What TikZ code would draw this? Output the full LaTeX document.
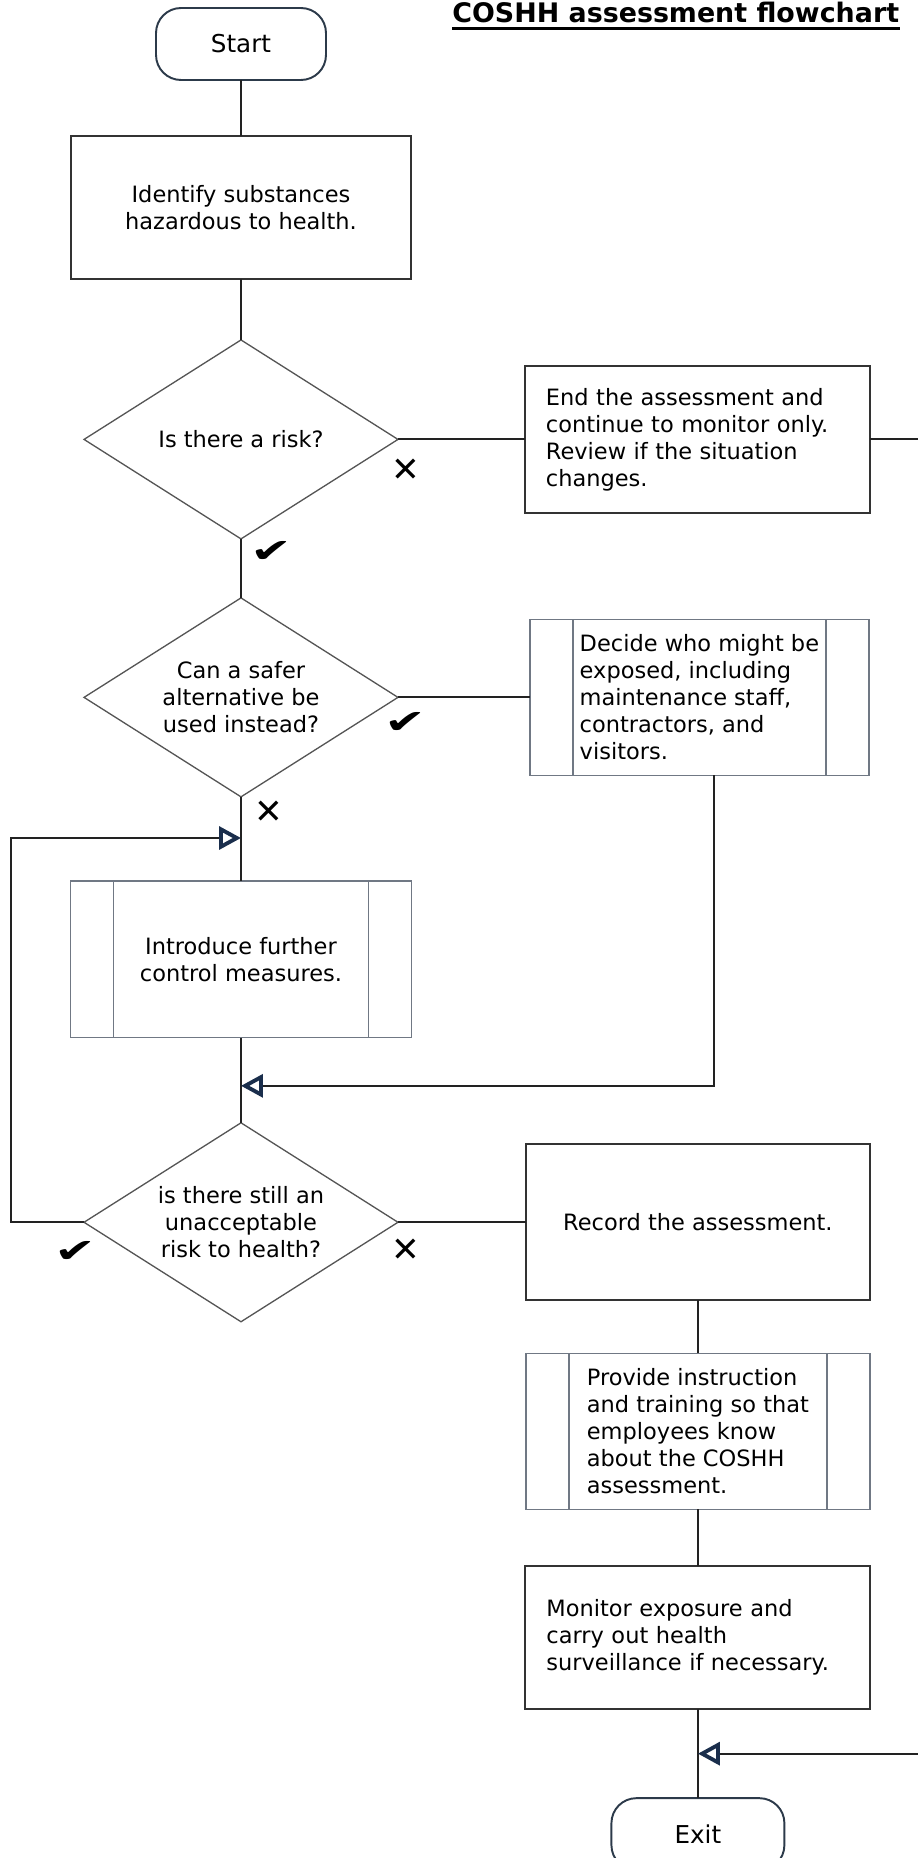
\documentclass[tikz,border=0pt]{standalone}
\usepackage{fontspec}
\setmainfont{DejaVu Sans}
\usepackage{graphicx}
\usetikzlibrary{shapes.geometric, arrows.meta, positioning, calc}
\definecolor{linegray}{RGB}{34,34,34}
\definecolor{boxgray}{RGB}{51,51,51}
\definecolor{diamgray}{RGB}{85,85,85}
\definecolor{procgray}{RGB}{112,120,132}
\definecolor{termslate}{RGB}{44,58,74}
\definecolor{tipnavy}{RGB}{26,46,76}
\tikzset{
  basebox/.style={rectangle,outer sep=0pt,align=center,font=\fontsize{12.8}{15.4}\selectfont},
  termnode/.style={basebox,rounded corners=0.5cm,draw=termslate,line width=1.1pt,minimum width=3.4cm,minimum height=1.44cm,font=\fontsize{14}{16}\selectfont},
  stepnode/.style={basebox,draw=boxgray,line width=1.1pt,minimum width=6.8cm},
  leftnode/.style={stepnode,align=left,text width=6.06cm,inner xsep=0.42cm},
  procnode/.style={basebox,align=left,draw=procgray,line width=0.75pt,minimum width=6.86cm,minimum height=3.12cm,
    path picture={\draw[procgray,line width=0.75pt]
      ([xshift=0.86cm]path picture bounding box.north west) -- ([xshift=0.86cm]path picture bounding box.south west)
      ([xshift=-0.86cm]path picture bounding box.north east) -- ([xshift=-0.86cm]path picture bounding box.south east);}},
  decnode/.style={diamond,draw=diamgray,line width=0.75pt,aspect=1.57,inner sep=1pt,outer sep=0pt,align=center,
    font=\fontsize{12.8}{15.4}\selectfont,minimum width=6.28cm,minimum height=3.98cm},
  nomark/.style={inner sep=0pt,font=\fontsize{19.5}{20}\selectfont},
  yesmark/.style={inner sep=0pt,font=\fontsize{19}{20}\selectfont},
  conn/.style={draw=linegray,line width=1.1pt},
  openarr/.style={conn,-{Triangle[open,length=12.5pt,width=13pt,line width=2.2pt,color=tipnavy]}}
}

\begin{document}
\begin{tikzpicture}[x=0.02cm,y=-0.02cm]
  \useasboundingbox (0,0) rectangle (917,1858);

  % left column
  \node[termnode] (start) at (241,44) {Start};
  \node[stepnode,minimum height=2.86cm,below=1.12cm of start] (ident) {Identify substances\\hazardous to health.};
  \node[decnode,below=1.22cm of ident] (risk) {Is there a risk?};
  \node[decnode,below=1.18cm of risk] (safer) {Can a safer\\alternative be\\used instead?};
  \node[procnode,align=center,minimum width=6.82cm,minimum height=3.14cm,below=1.68cm of safer] (intro) {Introduce further\\control measures.};
  \node[decnode,below=1.7cm of intro] (still) {is there still an\\unacceptable\\risk to health?};

  % right column
  \node[leftnode,minimum height=2.94cm,right=2.54cm of risk] (endbox) {End the assessment and\\continue to monitor only.\\Review if the situation\\changes.};
  \node[procnode,minimum width=6.78cm,right=2.64cm of safer] (decide) {Decide who might be\\exposed, including\\maintenance staff,\\contractors, and\\visitors.};
  \node[stepnode,minimum width=6.88cm,minimum height=3.12cm,right=2.56cm of still] (record) {Record the assessment.};
  \node[procnode,minimum width=6.88cm,below=1.06cm of record] (provide) {Provide instruction\\and training so that\\employees know\\about the COSHH\\assessment.};
  \node[leftnode,minimum height=2.86cm,below=1.14cm of provide] (monitor) {Monitor exposure and\\carry out health\\surveillance if necessary.};
  \node[termnode,minimum width=3.46cm,below=1.78cm of monitor] (exit) {Exit};

  \node[anchor=base west,inner sep=0pt,font=\fontsize{15.3}{18}\selectfont\bfseries] (title) at (452,23) {COSHH assessment flowchart};
  \draw[line width=1.5pt] ([yshift=-3pt]title.base west) -- ([yshift=-3pt]title.base east);

  % join points
  \coordinate (loopin) at ($(safer.south)!0.49!(intro.north)$);
  \coordinate (merge) at ($(intro.south)!0.565!(still.north)$);
  \coordinate (exitin) at ($(monitor.south)!0.5!(exit.north)$);

  \draw[conn] (start) -- (ident); \draw[conn] (ident) -- (risk); \draw[conn] (risk) -- (safer);
  \draw[conn] (safer) -- (intro); \draw[conn] (intro) -- (still);
  \draw[conn] (risk.east) -- (risk.east -| endbox.west);
  \draw[conn] (safer.east) -- (safer.east -| decide.west);
  \draw[conn] (still.east) -- (still.east -| record.west);
  \draw[conn] (record) -- (provide); \draw[conn] (provide) -- (monitor); \draw[conn] (monitor) -- (exit);
  \draw[openarr] (still.west) -- ++(-1.46cm,0) |- (loopin);
  \draw[openarr] ([xshift=0.29cm]decide.south) |- (merge);
  \draw[openarr] (endbox.east) -- ++(1.6cm,0) |- (exitin);

  % yes / no marks
  \node[nomark] (no1) at (406,470) {✕};
  \node[yesmark] (yes1) at (271,552) {\scalebox{1.5}[1]{✔}};
  \node[yesmark] (yes2) at (405,723) {\scalebox{1.5}[1]{✔}};
  \node[nomark] (no2) at (269,812) {✕};
  \node[yesmark] (yes3) at (75,1252) {\scalebox{1.5}[1]{✔}};
  \node[nomark] (no3) at (406,1250) {✕};
\end{tikzpicture}
\end{document}
